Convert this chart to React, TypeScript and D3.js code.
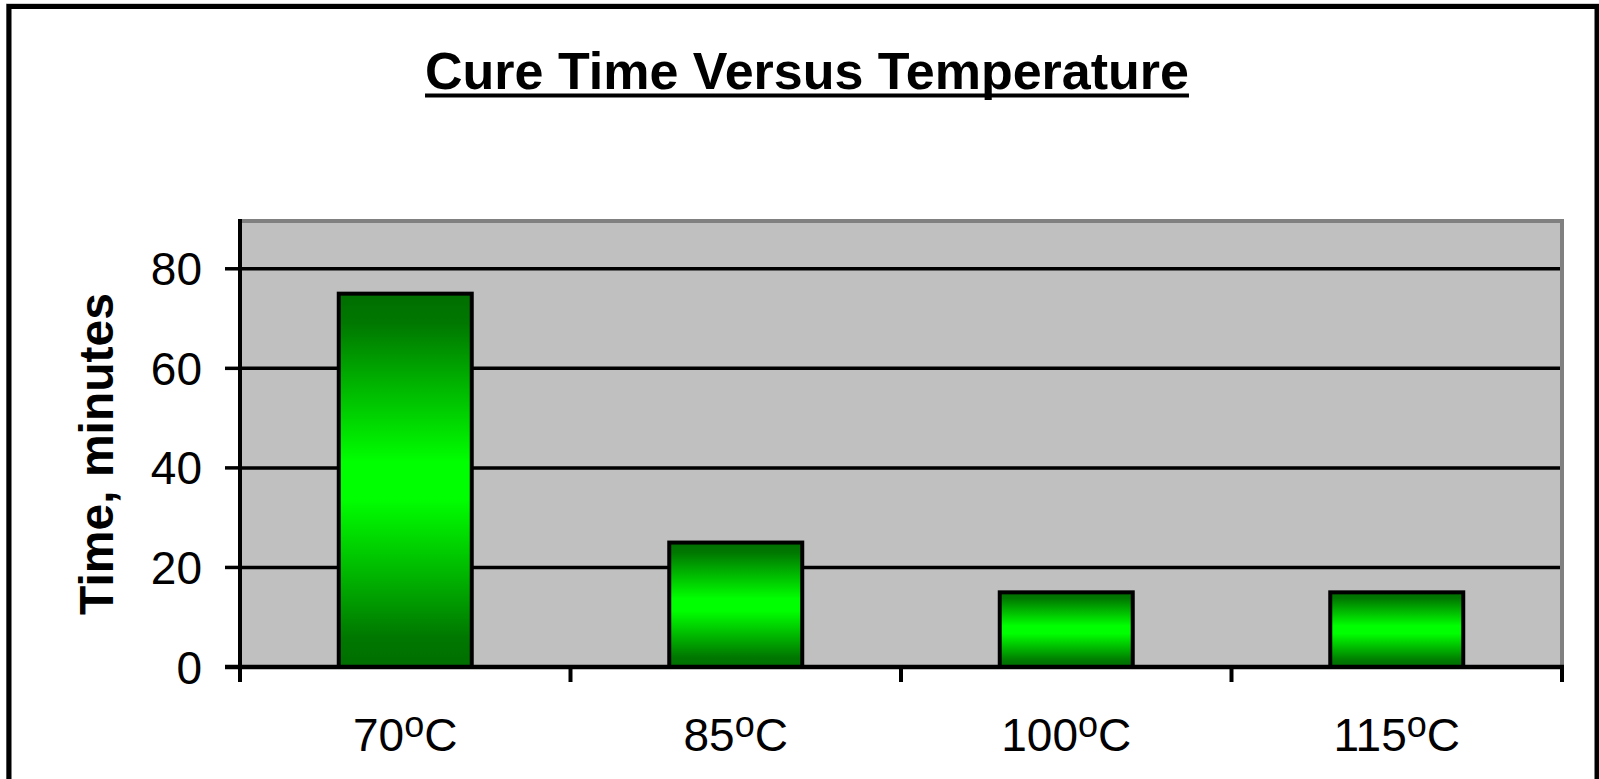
import React, { useRef, useEffect } from 'react';
import * as d3 from 'd3';

const categories = ['70', '85', '100', '115'];
const cureTimes = [75, 25, 15, 15];
const yTicks = [0, 20, 40, 60, 80];
const yMax = 90;

const App = () => {
    const svgRef = useRef<SVGSVGElement>(null);

    useEffect(() => {
        if (!svgRef.current) return;
        const svg = d3.select(svgRef.current);
        svg.selectAll('*').remove();

        const font = '"Liberation Sans", Arial, sans-serif';
        const left = 240, right = 1562, top = 219, bottom = 667;

        const x = d3.scaleBand<string>()
            .domain(categories)
            .range([left, right])
            .paddingInner(0.5976)
            .paddingOuter(0.2988);
        const y = d3.scaleLinear().domain([0, yMax]).range([bottom, top]);

        // gradient for the bars
        const grad = svg.append('defs').append('linearGradient')
            .attr('id', 'barGrad')
            .attr('x1', 0).attr('y1', 0).attr('x2', 0).attr('y2', 1);
        [[0, '#006e00'], [0.08, '#007800'], [0.45, '#00ff00'], [0.55, '#00ff00'], [0.92, '#007800'], [1, '#006e00']]
            .forEach(([o, c]) => grad.append('stop').attr('offset', o as number).attr('stop-color', c as string));

        // chart frame
        svg.append('rect')
            .attr('x', 6.5).attr('y', 4)
            .attr('width', 1593).attr('height', 820)
            .attr('fill', 'none').attr('stroke', '#a0a0a0').attr('stroke-width', 1);
        svg.append('rect')
            .attr('x', 9).attr('y', 6.5)
            .attr('width', 1588).attr('height', 820)
            .attr('fill', '#fff').attr('stroke', '#000').attr('stroke-width', 5);

        // plot area
        svg.append('rect')
            .attr('x', left).attr('y', top + 2)
            .attr('width', right - left).attr('height', bottom - top - 2)
            .attr('fill', '#c0c0c0').attr('stroke', '#808080').attr('stroke-width', 4);

        // gridlines
        svg.selectAll('.grid')
            .data(yTicks.slice(1))
            .enter().append('line')
            .attr('x1', left).attr('x2', right - 2)
            .attr('y1', d => y(d)).attr('y2', d => y(d))
            .attr('stroke', '#000').attr('stroke-width', 3.5);

        // bars
        svg.selectAll('.bar')
            .data(categories)
            .enter().append('rect')
            .attr('x', d => x(d)!)
            .attr('y', (d, i) => y(cureTimes[i]))
            .attr('width', x.bandwidth())
            .attr('height', (d, i) => bottom - y(cureTimes[i]))
            .attr('fill', 'url(#barGrad)')
            .attr('stroke', '#000').attr('stroke-width', 4);

        // axes
        svg.append('line')
            .attr('x1', left).attr('x2', left)
            .attr('y1', top).attr('y2', bottom + 15)
            .attr('stroke', '#000').attr('stroke-width', 4);
        svg.append('line')
            .attr('x1', left - 15).attr('x2', right + 2)
            .attr('y1', bottom).attr('y2', bottom)
            .attr('stroke', '#000').attr('stroke-width', 4.5);

        svg.selectAll('.ytick')
            .data(yTicks)
            .enter().append('line')
            .attr('x1', left - 15).attr('x2', left)
            .attr('y1', d => y(d)).attr('y2', d => y(d))
            .attr('stroke', '#000').attr('stroke-width', 3.5);

        svg.selectAll('.ylabel')
            .data(yTicks)
            .enter().append('text')
            .attr('x', 202).attr('y', d => y(d))
            .attr('dy', '0.36em')
            .attr('text-anchor', 'end')
            .style('font-family', font).style('font-size', '46px')
            .text(d => d);

        const step = x.step();
        svg.selectAll('.xtick')
            .data(d3.range(1, categories.length + 1))
            .enter().append('line')
            .attr('x1', i => left + i * step).attr('x2', i => left + i * step)
            .attr('y1', bottom).attr('y2', bottom + 15)
            .attr('stroke', '#000').attr('stroke-width', 4);

        const xl = svg.selectAll('.xlabel')
            .data(categories)
            .enter().append('text')
            .attr('x', d => x(d)! + x.bandwidth() / 2)
            .attr('y', 751)
            .attr('text-anchor', 'middle')
            .style('font-family', font).style('font-size', '46px');
        xl.append('tspan').text(d => d);
        xl.append('tspan').attr('dy', -14).style('font-size', '36px').text('o');
        xl.append('tspan').attr('dy', 14).text('C');

        // y axis title
        svg.append('text')
            .attr('transform', 'translate(113,454) rotate(-90)')
            .attr('text-anchor', 'middle')
            .style('font-family', font).style('font-size', '48px').style('font-weight', 'bold')
            .text('Time, minutes');

        // title with underline
        const title = svg.append('text')
            .attr('x', 807).attr('y', 89)
            .attr('text-anchor', 'middle')
            .style('font-family', font).style('font-size', '52px').style('font-weight', 'bold')
            .text('Cure Time Versus Temperature');
        const bb = (title.node() as SVGTextElement).getBBox();
        svg.append('line')
            .attr('x1', bb.x).attr('x2', bb.x + bb.width)
            .attr('y1', 95.5).attr('y2', 95.5)
            .attr('stroke', '#000').attr('stroke-width', 4);
    }, []);

    return (
        <svg ref={svgRef} width={1599} height={779}
            style={{ position: 'absolute', left: 0, top: 0 }} />
    );
};

export default App;
